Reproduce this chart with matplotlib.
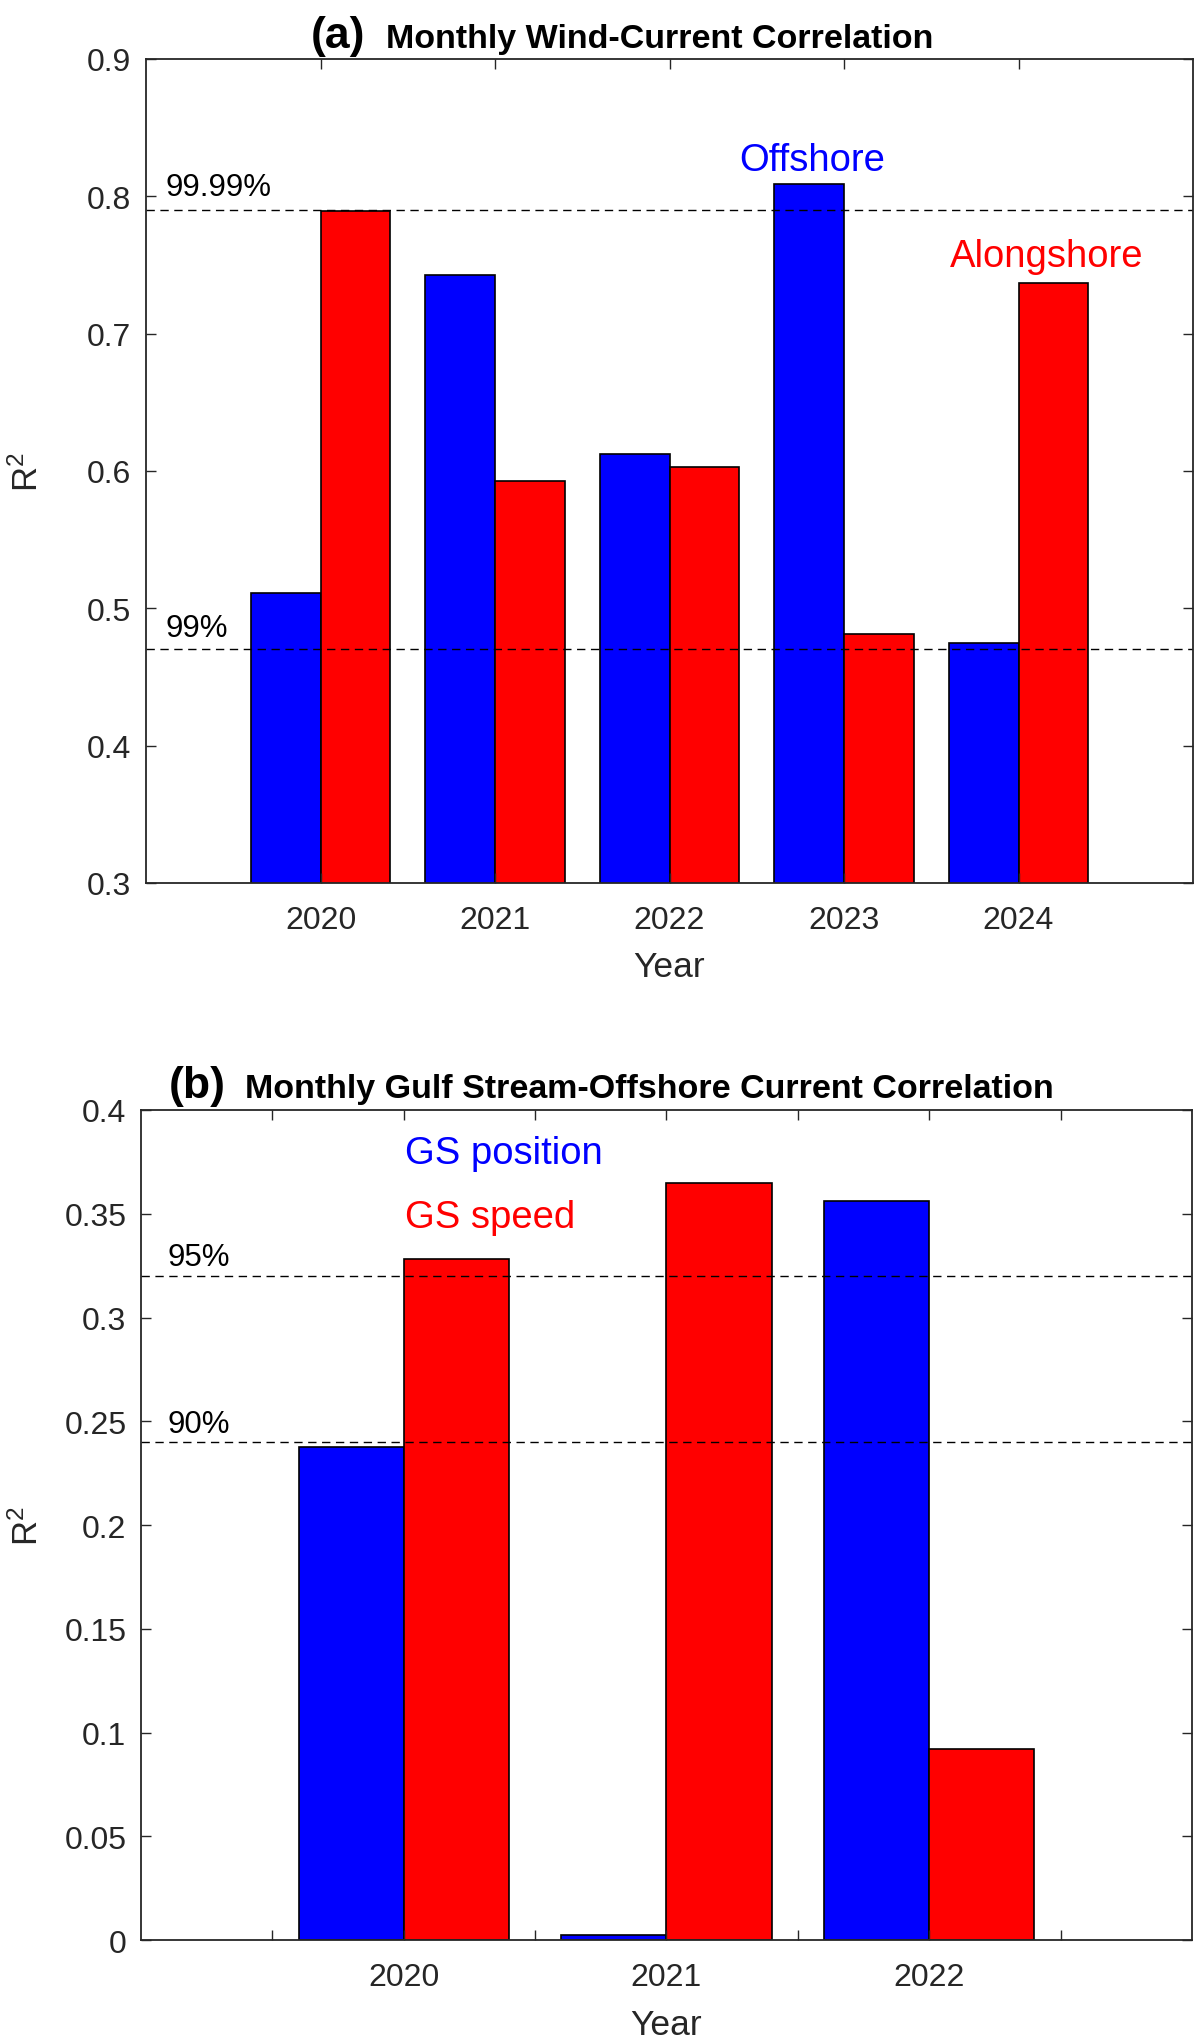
import matplotlib
matplotlib.use("Agg")
import matplotlib.pyplot as plt
import numpy as np
from matplotlib.ticker import FuncFormatter

plt.rcParams['font.family'] = ['Liberation Sans', 'DejaVu Sans']
plt.rcParams['mathtext.default'] = 'regular'

# ---------------- data ----------------
years_a = np.array([2020, 2021, 2022, 2023, 2024])
offshore = [0.511, 0.743, 0.612, 0.809, 0.475]
alongshore = [0.789, 0.593, 0.603, 0.481, 0.737]
sig_a = [0.47, 0.79]
sig_a_labels = ["99%", "99.99%"]

years_b = np.array([2020, 2021, 2022])
gs_position = [0.2375, 0.0023, 0.356]
gs_speed = [0.328, 0.365, 0.092]
sig_b = [0.24, 0.32]
sig_b_labels = ["90%", "95%"]

width = 0.4
tick_col = "#262626"

fig = plt.figure(figsize=(12, 20.4), dpi=100)
ax1 = fig.add_axes([0.1217, 0.5667, 0.8725, 0.4039])
ax2 = fig.add_axes([0.1175, 0.0485, 0.8758, 0.4069])


def style(ax):
    for s in ax.spines.values():
        s.set_linewidth(1.3)
        s.set_color(tick_col)
    ax.tick_params(direction="in", length=7, width=1.0, top=True, right=True,
                   labelsize=23, colors=tick_col)
    ax.tick_params(axis="x", pad=16)
    ax.tick_params(axis="y", pad=10.5)
    ax.yaxis.set_major_formatter(FuncFormatter(lambda v, p: f"{v:g}"))


# ---------------- panel (a) ----------------
ax1.bar(years_a - width/2, offshore, width, color="blue", edgecolor="black", linewidth=1.2)
ax1.bar(years_a + width/2, alongshore, width, color="red", edgecolor="black", linewidth=1.2)
for v in sig_a:
    ax1.axhline(v, color="black", linestyle=(0, (6, 4)), linewidth=1.0)
ax1.set_xlim(2019, 2025)
ax1.set_ylim(0.3, 0.9)
ax1.set_xticks(years_a)
ax1.set_yticks(np.arange(0.3, 0.91, 0.1))
style(ax1)
ax1.text(2019.11, 0.480, sig_a_labels[0], fontsize=22.5, va="baseline")
ax1.text(2019.11, 0.801, sig_a_labels[1], fontsize=22.5, va="baseline")
ax1.text(2022.82, 0.819, "Offshore", color="blue", fontsize=27.5, ha="center", va="baseline")
ax1.text(2024.16, 0.749, "Alongshore", color="red", fontsize=27.5, ha="center", va="baseline")
ax1.set_xlabel("Year", fontsize=25.5, labelpad=11, color=tick_col)
ax1.set_ylabel("R$^2$", fontsize=25, color=tick_col)
ax1.yaxis.set_label_coords(-0.0965, 0.5)
ax1.text(0.1576, 1.0146, "(a)", transform=ax1.transAxes, fontsize=32,
         fontweight="bold", va="baseline")
ax1.text(0.2292, 1.0146, "Monthly Wind-Current Correlation", transform=ax1.transAxes,
         fontsize=24.5, fontweight="bold", va="baseline")

# ---------------- panel (b) ----------------
ax2.bar(years_b - width/2, gs_position, width, color="blue", edgecolor="black", linewidth=1.2)
ax2.bar(years_b + width/2, gs_speed, width, color="red", edgecolor="black", linewidth=1.2)
for v in sig_b:
    ax2.axhline(v, color="black", linestyle=(0, (6, 4)), linewidth=1.0)
ax2.set_xlim(2019, 2023)
ax2.set_ylim(0, 0.4)
xt = np.arange(2019.5, 2022.6, 0.5)
ax2.set_xticks(xt)
ax2.set_xticklabels([f"{t:.0f}" if t % 1 == 0 else "" for t in xt])
ax2.set_yticks(np.arange(0, 0.41, 0.05))
style(ax2)
ax2.text(2019.1, 0.2446, sig_b_labels[0], fontsize=22.5, va="baseline")
ax2.text(2019.1, 0.3252, sig_b_labels[1], fontsize=22.5, va="baseline")
ax2.text(2020.005, 0.3744, "GS position", color="blue", fontsize=27.5, va="baseline")
ax2.text(2020.005, 0.3435, "GS speed", color="red", fontsize=27.5, va="baseline")
ax2.set_xlabel("Year", fontsize=25.5, labelpad=11, color=tick_col)
ax2.set_ylabel("R$^2$", fontsize=25, color=tick_col)
ax2.yaxis.set_label_coords(-0.0913, 0.5)
ax2.text(0.0266, 1.0157, "(b)", transform=ax2.transAxes, fontsize=32,
         fontweight="bold", va="baseline")
ax2.text(0.099, 1.0157, "Monthly Gulf Stream-Offshore Current Correlation",
         transform=ax2.transAxes, fontsize=24.5, fontweight="bold", va="baseline")

fig.savefig("out.png", dpi=100)
